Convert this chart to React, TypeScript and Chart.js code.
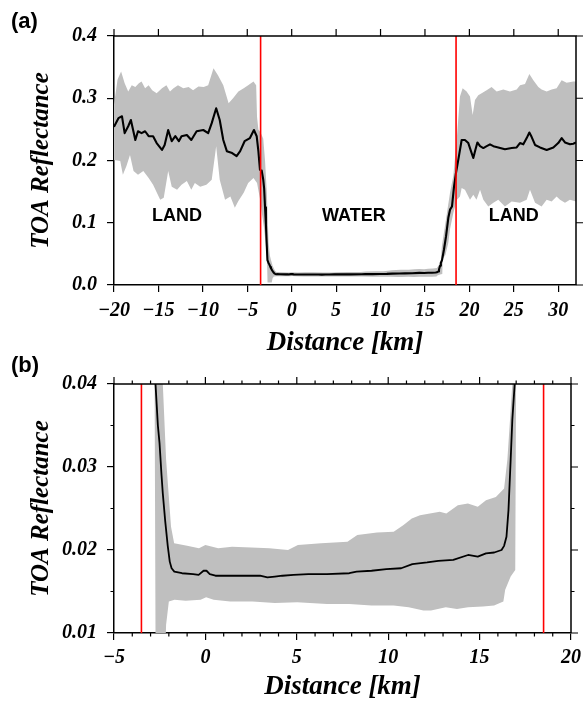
import React, { useEffect, useRef } from 'react';
import { Chart, registerables } from 'chart.js';

Chart.register(...registerables);

// ---- Mean TOA reflectance profile ----
const meanKm = [
  -20.0, -19.5, -19.1, -18.8, -18.4, -18.1, -17.6, -17.3, -16.9, -16.5, -16.1, -15.6, -15.2, -14.6, -14.3,
  -13.9, -13.5, -13.1, -12.7, -12.4, -11.8, -11.3, -10.7, -9.95, -9.4, -9.0, -8.5, -8.1, -7.7, -7.3, -6.7,
  -6.2, -5.8, -5.3, -4.7, -4.25, -3.94, -3.75, -3.57, -3.38, -3.2, -3.1, -3.0, -2.9, -2.8, -2.73, -2.6,
  -2.51, -2.4, -2.33, -2.2, -2.06, -1.95, -1.85, -1.7, -1.28, -0.67, -0.37, -0.1, 0.06, 0.24, 0.55, 1.36,
  2.17, 2.99, 3.39, 3.8, 4.21, 4.82, 5.63, 6.65, 7.87, 8.27, 9.09, 9.9, 10.71, 11.32, 12.13, 12.74, 13.56,
  14.37, 14.9, 15.35, 15.8, 16.2, 16.34, 16.47, 16.58, 16.7, 16.79, 16.92, 17.14, 17.37, 17.63, 17.82,
  18.04, 18.27, 18.49, 18.75, 19.13, 19.5, 19.88, 20.18, 20.44, 20.67, 20.9, 21.2, 21.57, 21.95, 22.32,
  22.7, 23.25, 24.0, 24.76, 25.32, 25.69, 26.07, 26.45, 26.75, 27.0, 27.39, 27.95, 28.7, 29.45, 30.0,
  30.39, 30.76, 31.32, 31.7, 32.0,
];
const meanRefl = [
  0.254, 0.268, 0.271, 0.244, 0.255, 0.265, 0.233, 0.247, 0.244, 0.247, 0.239, 0.239, 0.228, 0.217, 0.225,
  0.249, 0.231, 0.239, 0.231, 0.239, 0.241, 0.233, 0.247, 0.249, 0.244, 0.26, 0.284, 0.265, 0.233, 0.215, 0.212,
  0.207, 0.215, 0.231, 0.236, 0.249, 0.239, 0.215, 0.185, 0.184, 0.169, 0.155, 0.125, 0.097, 0.062, 0.04, 0.035,
  0.0329, 0.029, 0.0268, 0.0235, 0.0205, 0.0186, 0.0178, 0.0174, 0.0172, 0.0171, 0.017, 0.0175, 0.0175, 0.0171, 0.0169, 0.0169,
  0.0169, 0.0169, 0.0167, 0.0168, 0.0169, 0.017, 0.0171, 0.0171, 0.0172, 0.0174, 0.0175, 0.0177, 0.0178, 0.0183, 0.0185, 0.0187, 0.0188,
  0.0194, 0.0192, 0.0196, 0.0197, 0.02, 0.0205, 0.0216, 0.0248, 0.0309, 0.0357, 0.04, 0.057, 0.078, 0.108, 0.121,
  0.126, 0.158, 0.18, 0.201, 0.233, 0.233, 0.228, 0.215, 0.204, 0.217, 0.229, 0.223, 0.22, 0.223, 0.226,
  0.223, 0.221, 0.218, 0.22, 0.221, 0.228, 0.226, 0.236, 0.245, 0.238, 0.225, 0.221, 0.217, 0.221, 0.228,
  0.236, 0.229, 0.226, 0.227, 0.229,
];

// ---- Upper edge of the spread band ----
const upperKm = [
  -20.0, -19.6, -19.2, -18.8, -18.4, -18.0, -17.6, -17.2, -16.9, -16.5, -16.1, -15.7, -15.2, -14.6, -14.1,
  -13.7, -13.3, -12.8, -12.2, -11.6, -11.1, -10.5, -9.9, -9.4, -8.8, -8.3, -7.7, -7.1, -6.6, -6.0, -5.4,
  -4.9, -4.3, -4.0, -3.9, -3.75, -3.5, -3.2, -3.0, -2.8, -2.6, -2.45, -2.33, -2.15, -1.88, -1.71, -1.0,
  -0.35, 0.0, 0.7, 1.46, 2.5, 3.5, 4.52, 5.06, 6.33, 7.77, 8.31, 9.39, 10.3, 10.84, 11.29, 11.74, 12.28,
  12.82, 13.18, 13.81, 14.36, 14.9, 15.35, 15.89, 16.34, 16.52, 16.7, 16.79, 16.9, 17.2, 17.5, 17.82,
  18.19, 18.57, 18.94, 19.24, 19.69, 20.07, 20.37, 20.63, 21.0, 21.38, 21.94, 22.5, 23.07, 23.82, 24.57,
  25.32, 25.7, 26.26, 26.75, 27.2, 27.76, 28.13, 28.7, 29.26, 29.82, 30.38, 30.95, 31.7, 32.0,
];
const upperRefl = [
  0.29, 0.33, 0.343, 0.324, 0.311, 0.321, 0.318, 0.324, 0.327, 0.316, 0.321, 0.313, 0.308, 0.316, 0.321,
  0.311, 0.316, 0.321, 0.316, 0.318, 0.313, 0.319, 0.318, 0.321, 0.348, 0.337, 0.321, 0.292, 0.3, 0.311, 0.316,
  0.321, 0.327, 0.321, 0.27, 0.25, 0.245, 0.235, 0.2, 0.148, 0.068, 0.047, 0.04, 0.0309, 0.0228, 0.0208, 0.0205,
  0.0202, 0.0206, 0.0202, 0.0204, 0.0203, 0.0202, 0.02, 0.0206, 0.0208, 0.021, 0.0218, 0.0221, 0.0222, 0.023, 0.0238, 0.0242, 0.0244,
  0.0246, 0.0244, 0.0254, 0.0256, 0.0252, 0.026, 0.0264, 0.0274, 0.0309, 0.0369, 0.04, 0.062, 0.09, 0.118, 0.148,
  0.175, 0.233, 0.303, 0.316, 0.311, 0.303, 0.273, 0.297, 0.305, 0.308, 0.313, 0.318, 0.311, 0.314, 0.311,
  0.314, 0.321, 0.323, 0.339, 0.329, 0.318, 0.314, 0.311, 0.314, 0.316, 0.329, 0.325, 0.327, 0.327,
];

// ---- Lower edge of the spread band ----
const lowerKm = [
  -20.0, -19.3, -19.0, -18.6, -18.2, -17.8, -17.3, -16.7, -16.1, -15.6, -14.8, -14.4, -13.9, -13.5, -12.9,
  -12.4, -11.8, -11.3, -10.9, -10.3, -9.6, -9.0, -8.5, -8.1, -7.5, -6.9, -6.4, -6.0, -5.4, -4.9, -4.3,
  -3.9, -3.55, -3.35, -3.1, -2.9, -2.78, -2.72, -2.25, -2.15, -2.0, -1.69, -1.08, -0.26, 0.04, 0.45, 1.36,
  2.58, 3.8, 5.02, 6.65, 7.87, 9.09, 10.3, 11.12, 11.93, 12.34, 13.15, 13.76, 14.37, 15.18, 15.79, 16.3,
  16.4, 16.7, 16.95, 17.0, 17.3, 17.63, 17.82, 18.2, 18.6, 18.94, 19.13, 19.5, 20.07, 20.44, 20.8, 21.2,
  21.57, 22.13, 22.7, 23.25, 24.0, 24.76, 25.69, 26.45, 26.82, 27.39, 28.13, 28.7, 29.26, 29.82, 30.2,
  30.76, 31.32, 32.0,
];
const lowerRefl = [
  0.201, 0.199, 0.177, 0.191, 0.209, 0.183, 0.177, 0.183, 0.172, 0.161, 0.137, 0.14, 0.183, 0.158, 0.153,
  0.161, 0.167, 0.153, 0.164, 0.158, 0.161, 0.169, 0.223, 0.169, 0.137, 0.142, 0.124, 0.135, 0.148, 0.164, 0.172,
  0.164, 0.137, 0.115, 0.09, 0.062, 0.041, 0.004, 0.004, 0.011, 0.0138, 0.014, 0.0139, 0.014, 0.0143, 0.014, 0.0138,
  0.0138, 0.0136, 0.0137, 0.0135, 0.0135, 0.0133, 0.0133, 0.0131, 0.0127, 0.0127, 0.0131, 0.0129, 0.0131, 0.0132, 0.0133, 0.0138,
  0.0152, 0.0168, 0.0176, 0.042, 0.048, 0.068, 0.09, 0.116, 0.137, 0.142, 0.156, 0.153, 0.137, 0.145, 0.137, 0.153,
  0.137, 0.126, 0.132, 0.137, 0.126, 0.134, 0.132, 0.137, 0.153, 0.132, 0.126, 0.137, 0.134, 0.142, 0.137,
  0.132, 0.137, 0.134,
];

// ---- Shoreline positions (red lines) ----
const shorelineKm = [-3.5, 18.5];

// ---- Axes ----
const panelAXRange = [-20, 32];
const panelAYRange = [0, 0.4];
const panelAXTicks = [-20, -15, -10, -5, 0, 5, 10, 15, 20, 25, 30];
const panelAYTicks = [0, 0.1, 0.2, 0.3, 0.4];

const panelBXRange = [-5, 20];
const panelBYRange = [0.01, 0.04];
const panelBXTicks = [-5, 0, 5, 10, 15, 20];
const panelBXMinor = [-4, -3, -2, -1, 1, 2, 3, 4, 6, 7, 8, 9, 11, 12, 13, 14, 16, 17, 18, 19];
const panelBYTicks = [0.01, 0.02, 0.03, 0.04];
const panelBYMinor = [0.015, 0.025, 0.035];

// ---- Region annotations in panel (a) ----
const regionNames = ['LAND', 'WATER', 'LAND'];
const regionKm = [-12.9, 7.0, 25.0];
const regionRefl = 0.1115;

const SERIF = '"Liberation Serif", "Times New Roman", serif';
const SANS = '"Liberation Sans", Arial, sans-serif';

const toXY = (xs: number[], ys: number[]) => xs.map((x, i) => ({ x, y: ys[i] }));
const fmtX = (v: number) => (v < 0 ? '\u2212' + Math.abs(v) : String(v));

type PanelSpec = {
  letter: string;
  letterY: number;
  xRange: number[];
  yRange: number[];
  xTicks: number[];
  yTicks: number[];
  xMinor: number[];
  yMinor: number[];
  yDecimals: number;
  lineWidth: number;
  canvasHeight: number;
  plotTop: number;
  plotBottom: number;
  xTickPad: number;
  labels: boolean;
};

function makeFramePlugin(spec: PanelSpec) {
  return {
    id: 'frame' + spec.letter,
    afterDraw(chart: any) {
      const { ctx, chartArea } = chart;
      const xs = chart.scales.x;
      const ys = chart.scales.y;
      const { left, right, top, bottom } = chartArea;
      ctx.save();
      ctx.strokeStyle = '#000';
      ctx.lineWidth = 1.5;
      ctx.beginPath();
      ctx.moveTo(left, top);
      ctx.lineTo(right, top);
      ctx.lineTo(right, bottom);
      ctx.stroke();
      ctx.lineWidth = 1.2;
      ctx.beginPath();
      const major = 7;
      const minor = 3.5;
      spec.xTicks.forEach((v) => {
        const x = xs.getPixelForValue(v);
        ctx.moveTo(x, top);
        ctx.lineTo(x, top - major);
      });
      spec.yTicks.forEach((v) => {
        const y = ys.getPixelForValue(v);
        ctx.moveTo(right, y);
        ctx.lineTo(right + major, y);
      });
      spec.xMinor.forEach((v) => {
        const x = xs.getPixelForValue(v);
        ctx.moveTo(x, top);
        ctx.lineTo(x, top - minor);
        ctx.moveTo(x, bottom);
        ctx.lineTo(x, bottom + minor);
      });
      spec.yMinor.forEach((v) => {
        const y = ys.getPixelForValue(v);
        ctx.moveTo(right, y);
        ctx.lineTo(right + minor, y);
        ctx.moveTo(left, y);
        ctx.lineTo(left - minor, y);
      });
      ctx.stroke();

      ctx.fillStyle = '#000';
      ctx.font = 'bold 22px ' + SANS;
      ctx.textAlign = 'left';
      ctx.textBaseline = 'middle';
      ctx.fillText('(' + spec.letter + ')', 11, spec.letterY);

      if (spec.labels) {
        ctx.font = 'bold 18px ' + SANS;
        ctx.textAlign = 'center';
        regionNames.forEach((name, i) => {
          ctx.fillText(name, xs.getPixelForValue(regionKm[i]), ys.getPixelForValue(regionRefl));
        });
      }
      ctx.restore();
    },
  };
}

function makeConfig(spec: PanelSpec): any {
  const tickFont = { family: SERIF, size: 20, style: 'italic' as const, weight: 'bold' as const };
  const xTitleFont = { family: SERIF, size: 27, style: 'italic' as const, weight: 'bold' as const };
  const yTitleFont = { family: SERIF, size: 25, style: 'italic' as const, weight: 'bold' as const };
  const redSets = shorelineKm.map((k) => ({
    data: [
      { x: k, y: spec.yRange[0] },
      { x: k, y: spec.yRange[1] },
    ],
    borderColor: '#ff0000',
    borderWidth: 1.6,
    pointRadius: 0,
    fill: false,
    order: 1,
  }));
  return {
    type: 'line',
    data: {
      datasets: [
        {
          data: toXY(lowerKm, lowerRefl),
          borderColor: 'rgba(0,0,0,0)',
          borderWidth: 0,
          pointRadius: 0,
          fill: false,
          order: 3,
        },
        {
          data: toXY(upperKm, upperRefl),
          borderColor: 'rgba(0,0,0,0)',
          backgroundColor: '#bfbfbf',
          borderWidth: 0,
          pointRadius: 0,
          fill: { target: 0 },
          order: 3,
        },
        {
          data: toXY(meanKm, meanRefl),
          borderColor: '#000000',
          borderWidth: spec.lineWidth,
          borderJoinStyle: 'round',
          pointRadius: 0,
          fill: false,
          tension: 0,
          order: 2,
        },
        ...redSets,
      ],
    },
    options: {
      animation: false,
      responsive: false,
      events: [],
      layout: { padding: { top: spec.plotTop, right: 11, left: 0, bottom: 0 } },
      plugins: { legend: { display: false }, tooltip: { enabled: false } },
      scales: {
        x: {
          type: 'linear',
          position: 'bottom',
          min: spec.xRange[0],
          max: spec.xRange[1],
          afterBuildTicks: (s: any) => {
            s.ticks = spec.xTicks.map((v) => ({ value: v }));
          },
          afterFit: (s: any) => {
            s.height = spec.canvasHeight - spec.plotBottom;
          },
          grid: { drawOnChartArea: false, drawTicks: true, tickLength: 7, color: '#000', lineWidth: 1.2 },
          border: { display: true, color: '#000', width: 1.5 },
          ticks: {
            color: '#000',
            font: tickFont,
            padding: spec.xTickPad,
            maxRotation: 0,
            autoSkip: false,
            callback: (v: any) => fmtX(Number(v)),
          },
          title: {
            display: true,
            text: 'Distance [km]',
            color: '#000',
            font: xTitleFont,
            padding: { top: 0, bottom: 1 },
          },
        },
        y: {
          type: 'linear',
          position: 'left',
          min: spec.yRange[0],
          max: spec.yRange[1],
          afterBuildTicks: (s: any) => {
            s.ticks = spec.yTicks.map((v) => ({ value: v }));
          },
          afterFit: (s: any) => {
            s.width = 114;
          },
          grid: { drawOnChartArea: false, drawTicks: true, tickLength: 7, color: '#000', lineWidth: 1.2 },
          border: { display: true, color: '#000', width: 1.5 },
          ticks: {
            color: '#000',
            font: tickFont,
            padding: 10,
            autoSkip: false,
            callback: (v: any) => Number(v).toFixed(spec.yDecimals),
          },
          title: {
            display: true,
            text: 'TOA Reflectance',
            color: '#000',
            font: yTitleFont,
            padding: { top: 27, bottom: 0 },
          },
        },
      },
    },
    plugins: [makeFramePlugin(spec)],
  };
}

const specA: PanelSpec = {
  letter: 'a',
  letterY: 22,
  xRange: panelAXRange,
  yRange: panelAYRange,
  xTicks: panelAXTicks,
  yTicks: panelAYTicks,
  xMinor: [],
  yMinor: [],
  yDecimals: 1,
  lineWidth: 2.1,
  canvasHeight: 360,
  plotTop: 36,
  plotBottom: 285,
  xTickPad: 7,
  labels: true,
};

const specB: PanelSpec = {
  letter: 'b',
  letterY: 14,
  xRange: panelBXRange,
  yRange: panelBYRange,
  xTicks: panelBXTicks,
  yTicks: panelBYTicks,
  xMinor: panelBXMinor,
  yMinor: panelBYMinor,
  yDecimals: 2,
  lineWidth: 1.8,
  canvasHeight: 352,
  plotTop: 32,
  plotBottom: 281,
  xTickPad: 6,
  labels: false,
};

function Panel({ spec, top }: { spec: PanelSpec; top: number }) {
  const ref = useRef<HTMLCanvasElement | null>(null);
  useEffect(() => {
    if (!ref.current) return;
    const chart = new Chart(ref.current, makeConfig(spec));
    return () => chart.destroy();
  }, [spec]);
  return (
    <canvas
      ref={ref}
      width={587}
      height={spec.canvasHeight}
      style={{ position: 'absolute', left: 0, top, width: 587, height: spec.canvasHeight }}
    />
  );
}

export default function App() {
  return (
    <div style={{ position: 'absolute', left: 0, top: 0, width: 587, height: 704, background: '#fff' }}>
      <Panel spec={specA} top={0} />
      <Panel spec={specB} top={352} />
    </div>
  );
}
